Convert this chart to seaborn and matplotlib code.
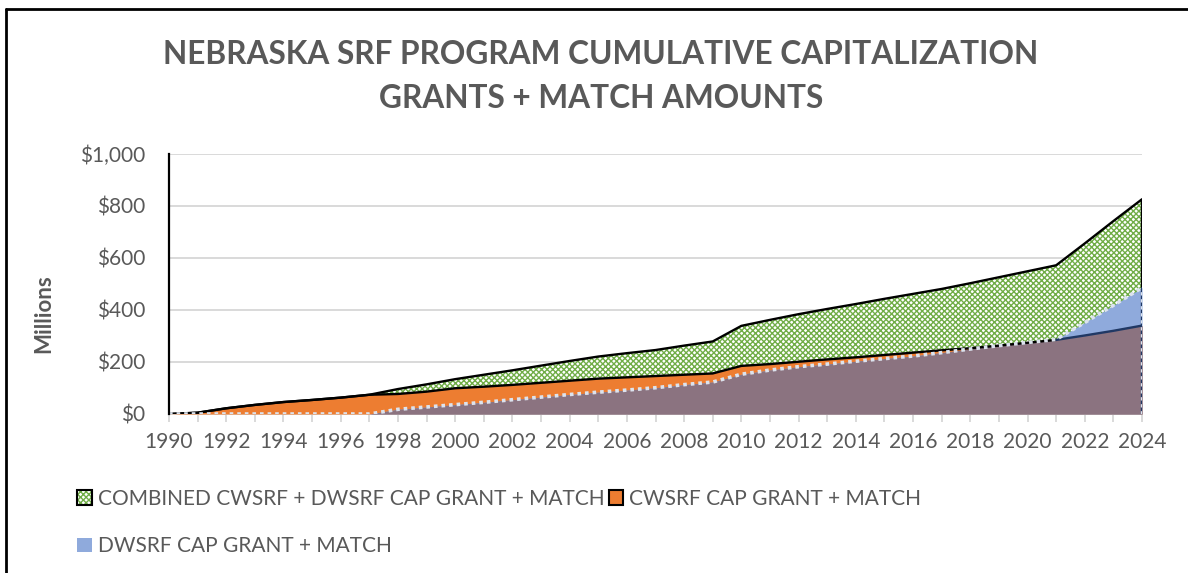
import numpy as np
import pandas as pd
import matplotlib
matplotlib.use("Agg")
import matplotlib.pyplot as plt
import seaborn as sns
from matplotlib.patches import Patch
from matplotlib.lines import Line2D
from matplotlib.legend_handler import HandlerTuple

# ---------------- data (millions of $) ----------------
years = list(range(1990, 2025))
cwsrf = [0, 5, 22, 35, 46, 54, 63, 74, 77, 86, 99, 105, 112, 120, 128, 136, 141,
         146, 151, 156, 185, 192, 201, 210, 218, 227, 236, 245, 253, 263, 274, 285,
         302, 320, 340]
dwsrf = [0, 0, 0, 0, 0, 0, 0, 0, 18, 27, 36, 45, 55, 65, 75, 84, 92,
         101, 113, 123, 153, 169, 182, 192, 203, 213, 223, 236, 250, 263, 275, 287,
         352, 418, 486]
combined = [0, 5, 22, 35, 46, 54, 63, 74, 96, 114, 134, 151, 168, 186, 204, 221, 234,
            246, 263, 279, 339, 362, 384, 404, 423, 443, 462, 481, 503, 526, 549, 572,
            656, 742, 826]
y_ticks = [0, 200, 400, 600, 800, 1000]
y_tick_labels = ["$0", "$200", "$400", "$600", "$800", "$1,000"]
x_tick_labels = [str(y) if y % 2 == 0 else "" for y in years]

title_1 = "NEBRASKA SRF PROGRAM CUMULATIVE CAPITALIZATION"
title_2 = "GRANTS + MATCH AMOUNTS"
y_label = "Millions"
lab_comb = "COMBINED CWSRF + DWSRF CAP GRANT + MATCH"
lab_cw = "CWSRF CAP GRANT + MATCH"
lab_dw = "DWSRF CAP GRANT + MATCH"

df = pd.DataFrame({"year": years, "cw": cwsrf, "dw": dwsrf, "comb": combined})
df["overlap"] = np.minimum(df["cw"], df["dw"])

# ---------------- style ----------------
sns.set_theme(style="white")
plt.rcParams["font.family"] = ["Lato", "DejaVu Sans"]
plt.rcParams["hatch.linewidth"] = 1.0
TXT = "#595959"
GRID = "#D9D9D9"
GREEN = "#70AD47"
ORANGE = "#ED7D31"
BLUE = "#8FAADC"
PURPLE = "#8B7380"
DOT = "#DCE3EE"

fig = plt.figure(figsize=(11.88, 5.73), dpi=100)
ax = fig.add_axes([169 / 1188, 1 - 414 / 573, (1142 - 169) / 1188, (414 - 154) / 573])

# areas
ax.fill_between(df["year"], 0, df["comb"], facecolor="white", edgecolor=GREEN,
                hatch="xxxxxx", linewidth=0, zorder=2)
ax.fill_between(df["year"], 0, df["cw"], facecolor=ORANGE, linewidth=0, zorder=3)
ax.fill_between(df["year"], 0, df["dw"], facecolor=BLUE, linewidth=0, zorder=4)
ax.fill_between(df["year"], 0, df["overlap"], facecolor=PURPLE, linewidth=0, zorder=5)

# outlines
sns.lineplot(data=df, x="year", y="comb", color="black", lw=1.7, ax=ax, zorder=7)
sns.lineplot(data=df[df["year"] <= 2021], x="year", y="cw", color="black", lw=1.7,
             ax=ax, zorder=7)
sns.lineplot(data=df[df["year"] >= 2021], x="year", y="cw", color="#203864", lw=1.7,
             ax=ax, zorder=7)
sns.lineplot(data=df, x="year", y="dw", color=DOT, lw=2.6,
             linestyle=(0, (1, 1.1)), ax=ax, zorder=8)
last = df.iloc[-1]
ax.plot([last["year"], last["year"]], [last["dw"], last["comb"]], color="black",
        lw=1.7, zorder=7, solid_capstyle="butt")
ax.plot([last["year"], last["year"]], [0, last["dw"]], color="#203864", lw=2.4, zorder=8)
ax.plot([last["year"], last["year"]], [0, last["dw"]], color=DOT, lw=2.4,
        linestyle=(0, (1, 1.1)), zorder=9)

# axes styling
ax.set_xlim(1990, 2024)
ax.set_ylim(0, 1000)
ax.set_yticks(y_ticks)
ax.set_yticklabels(y_tick_labels)
ax.set_xticks(years)
ax.set_xticklabels(x_tick_labels)
ax.yaxis.grid(True, color=GRID, lw=1.4)
ax.xaxis.grid(False)
ax.set_axisbelow(True)
ax.set_xlabel("")
ax.set_ylabel("")
for s in ["top", "right"]:
    ax.spines[s].set_visible(False)
ax.spines["left"].set_color("black")
ax.spines["left"].set_linewidth(1.6)
ax.spines["left"].set_zorder(10)
ax.spines["bottom"].set_color(GRID)
ax.spines["bottom"].set_linewidth(1.4)
ax.tick_params(axis="x", length=6, width=1.4, color=GRID, direction="out",
               labelsize=15, labelcolor=TXT, pad=7, bottom=True)
ax.tick_params(axis="y", length=0, labelsize=15, labelcolor=TXT, pad=17)

# titles
fig.text(601 / 1188, 1 - 54 / 573, title_1, ha="center", va="center",
         fontsize=22.8, fontweight="bold", color=TXT)
fig.text(601 / 1188, 1 - 98 / 573, title_2, ha="center", va="center",
         fontsize=22.8, fontweight="bold", color=TXT)
fig.text(44 / 1188, 1 - 314 / 573, y_label, ha="center", va="center", rotation=90,
         fontsize=16, fontweight="bold", color=TXT)

# legend
h_comb = (Patch(facecolor="white", edgecolor=GREEN, hatch="xxxxxx", linewidth=0),
          Patch(facecolor="none", edgecolor="black", linewidth=1.5))
h_cw = Patch(facecolor=ORANGE, edgecolor="black", linewidth=1.5)
h_dw = Patch(facecolor=BLUE, edgecolor="none")
fig.legend(handles=[h_comb, h_dw, h_cw], labels=[lab_comb, lab_dw, lab_cw],
           handler_map={tuple: HandlerTuple(ndivide=1)},
           ncol=2, loc="upper left", bbox_to_anchor=(77 / 1188, 1 - 489 / 573),
           frameon=False, fontsize=15, labelcolor=TXT, handlelength=0.7,
           handleheight=0.7, handletextpad=0.3, columnspacing=0.2, labelspacing=1.31,
           borderpad=0, borderaxespad=0)

# frame
fig.add_artist(Line2D([6 / 1188, 6 / 1188], [0, 1 - 9 / 573], transform=fig.transFigure,
                      color="black", lw=2))
fig.add_artist(Line2D([6 / 1188, 1], [1 - 9 / 573, 1 - 9 / 573], transform=fig.transFigure,
                      color="black", lw=2))

fig.savefig("out.png", dpi=100)
